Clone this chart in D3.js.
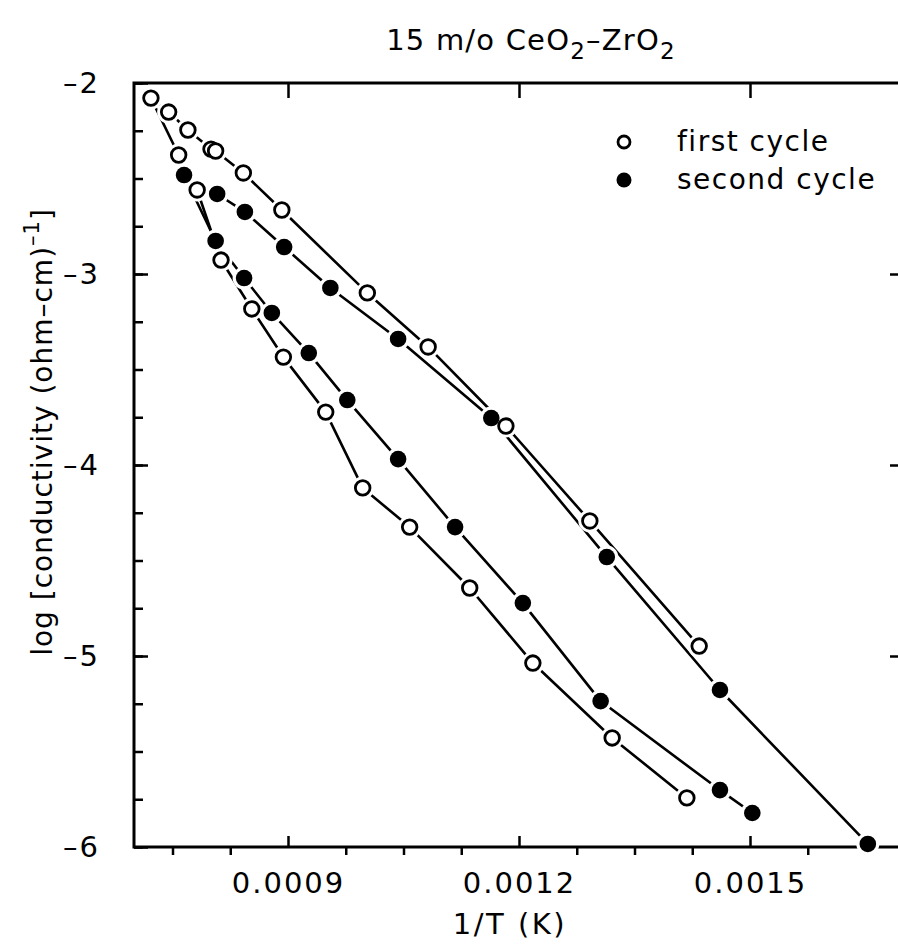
<!DOCTYPE html>
<html>
<head>
<meta charset="utf-8">
<script src="https://cdn.jsdelivr.net/npm/d3@7.9.0/dist/d3.min.js"></script>
<style>
  body { margin: 0; background: #fff; }
  svg { display: block; }
  text { font-family: "DejaVu Sans", sans-serif; fill: #000; }
</style>
</head>
<body>
<svg width="898" height="945"></svg>
<script>
// first cycle (open circles): heating branch then cooling branch
const firstX = [0.001418, 0.001321, 0.001218, 0.001136, 0.001058, 0.000997, 0.000949, 0.000894,
  0.000853, 0.000813, 0.000782, 0.000758, 0.000722,
  0.000745, 0.000770, 0.000800, 0.000806, 0.000842, 0.000892, 0.001003, 0.001082, 0.001183,
  0.001292, 0.001434];
const firstY = [-5.743, -5.429, -5.037, -4.644, -4.325, -4.120, -3.723, -3.435,
  -3.183, -2.927, -2.560, -2.377, -2.079,
  -2.152, -2.246, -2.346, -2.356, -2.471, -2.665, -3.099, -3.382, -3.796,
  -4.293, -4.948];

// second cycle (filled circles)
const secondX = [0.001503, 0.001461, 0.001306, 0.001205, 0.001117, 0.001043, 0.000977, 0.000927,
  0.000879, 0.000843, 0.000806, 0.000765,
  0.000808, 0.000844, 0.000895, 0.000955, 0.001043, 0.001164, 0.001314, 0.001461, 0.001653];
const secondY = [-5.822, -5.702, -5.236, -4.723, -4.325, -3.969, -3.660, -3.414,
  -3.204, -3.021, -2.827, -2.482,
  -2.581, -2.675, -2.859, -3.073, -3.340, -3.754, -4.482, -5.178, -5.984];

const xMajor = [0.0009, 0.0012, 0.0015];
const xMinor = [0.00075, 0.000825, 0.000975, 0.00105, 0.001125, 0.001275, 0.00135, 0.001425, 0.001575, 0.00165];
const yMajor = [-2, -3, -4, -5, -6];
const yMinor = d3.range(-2, -6.01, -0.25);

const svg = d3.select("svg");
const plotL = 134, plotR = 904, plotT = 83, plotB = 847;

const x = d3.scaleLinear().domain([0.0007, 0.0017]).range([plotL, plotR]);
const y = d3.scaleLinear().domain([-2, -6]).range([plotT, plotB]);

const styleAxis = g => {
  g.select(".domain").remove();
  g.selectAll(".tick line").attr("stroke", "#000").attr("stroke-width", 2.5);
  g.selectAll(".tick text")
    .style("font-size", "29px")
    .style("letter-spacing", "2px")
    .attr("fill", "#000");
};

// frame
svg.append("rect")
  .attr("x", plotL).attr("y", plotT)
  .attr("width", plotR - plotL).attr("height", plotB - plotT)
  .attr("fill", "none").attr("stroke", "#000").attr("stroke-width", 3);

// bottom axis: major ticks inward with labels, minor ticks outward
svg.append("g")
  .attr("transform", `translate(0,${plotB})`)
  .call(d3.axisBottom(x).tickValues(xMajor).tickSize(-11).tickPadding(25)
    .tickFormat(d3.format(".4f")))
  .call(styleAxis);
svg.append("g")
  .attr("transform", `translate(0,${plotB})`)
  .call(d3.axisBottom(x).tickValues(xMinor).tickSize(8).tickFormat(""))
  .call(styleAxis);

// top axis
svg.append("g")
  .attr("transform", `translate(0,${plotT})`)
  .call(d3.axisTop(x).tickValues(xMajor).tickSize(-15).tickFormat(""))
  .call(styleAxis);

// left axis
svg.append("g")
  .attr("transform", `translate(${plotL},0)`)
  .call(d3.axisLeft(y).tickValues(yMajor).tickSize(-14).tickPadding(34)
    .tickFormat(d => "\u2013" + Math.abs(d)))
  .call(styleAxis);
svg.append("g")
  .attr("transform", `translate(${plotL},0)`)
  .call(d3.axisLeft(y).tickValues(yMinor).tickSize(-9).tickFormat(""))
  .call(styleAxis);

// right axis
svg.append("g")
  .attr("transform", `translate(${plotR},0)`)
  .call(d3.axisRight(y).tickValues([-3, -4, -5]).tickSize(-14).tickFormat(""))
  .call(styleAxis);

const line = d3.line().x(d => x(d[0])).y(d => y(d[1]));
const series = [
  { xs: firstX, ys: firstY, open: true },
  { xs: secondX, ys: secondY, open: false }
];

series.forEach(s => {
  const pts = s.xs.map((v, i) => [v, s.ys[i]]);
  svg.append("path")
    .attr("d", line(pts))
    .attr("fill", "none")
    .attr("stroke", "#000")
    .attr("stroke-width", 2.6)
    .attr("stroke-linejoin", "round");
});

// white halos so lines stop short of the markers
series.forEach(s => {
  s.xs.forEach((v, i) => {
    svg.append("circle")
      .attr("cx", x(v)).attr("cy", y(s.ys[i]))
      .attr("r", 11.5).attr("fill", "#fff");
  });
});
series.forEach(s => {
  s.xs.forEach((v, i) => {
    svg.append("circle")
      .attr("cx", x(v)).attr("cy", y(s.ys[i]))
      .attr("r", s.open ? 7.3 : 8.3)
      .attr("fill", s.open ? "#fff" : "#000")
      .attr("stroke", "#000")
      .attr("stroke-width", s.open ? 2.8 : 0);
  });
});

// legend
const legend = [
  { label: "first cycle", open: true },
  { label: "second cycle", open: false }
];
legend.forEach((d, i) => {
  const cy = 142 + i * 38;
  svg.append("circle")
    .attr("cx", 624).attr("cy", cy)
    .attr("r", d.open ? 6 : 7.5)
    .attr("fill", d.open ? "#fff" : "#000")
    .attr("stroke", "#000").attr("stroke-width", d.open ? 2.8 : 0);
  svg.append("text")
    .attr("x", 677).attr("y", cy + 9)
    .style("font-size", "28px").style("letter-spacing", "1.5px")
    .text(d.label);
});

// title
const title = svg.append("text")
  .attr("x", 531).attr("y", 50)
  .attr("text-anchor", "middle")
  .style("font-size", "29px").style("letter-spacing", "1.2px");
title.append("tspan").text("15 m/o CeO");
title.append("tspan").attr("dy", 9).style("font-size", "23px").text("2");
title.append("tspan").attr("dy", -9).text("\u2013ZrO");
title.append("tspan").attr("dy", 9).style("font-size", "23px").text("2");

// x title
svg.append("text")
  .attr("x", 510).attr("y", 934)
  .attr("text-anchor", "middle")
  .style("font-size", "29px").style("letter-spacing", "2.5px")
  .text("1/T (K)");

// y title
const yt = svg.append("text")
  .attr("transform", "translate(52,432) rotate(-90)")
  .attr("text-anchor", "middle")
  .style("font-size", "28px").style("letter-spacing", "1px");
yt.append("tspan").text("log [conductivity (ohm\u2013cm)");
yt.append("tspan").attr("dy", -13).style("font-size", "21px").text("\u20131");
yt.append("tspan").attr("dy", 13).text("]");
</script>
</body>
</html>
